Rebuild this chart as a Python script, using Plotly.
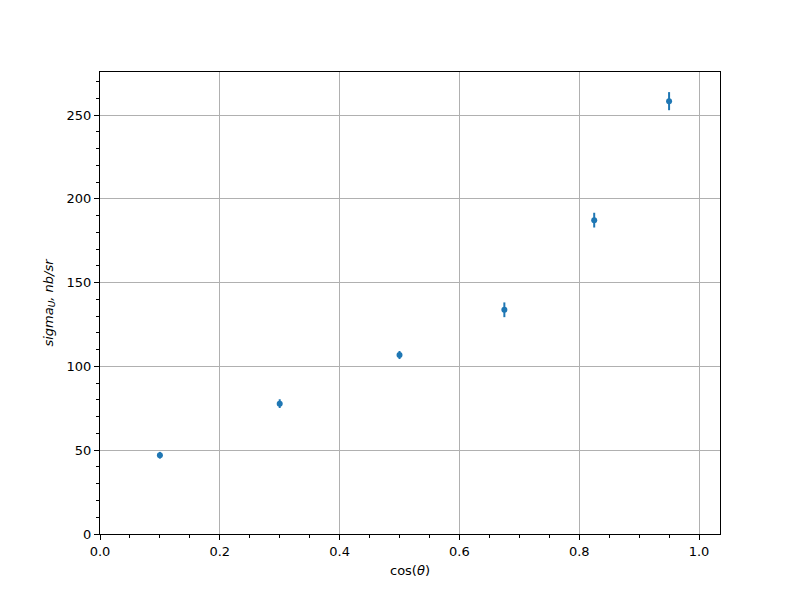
import plotly.graph_objects as go

cos_theta = [0.1, 0.3, 0.5, 0.675, 0.825, 0.95]
sigma_u = [47.0, 77.8, 106.8, 133.8, 187.3, 258.3]
sigma_err = [2.0, 2.6, 2.4, 4.4, 4.4, 5.4]

fig = go.Figure()
fig.add_trace(go.Scatter(
    x=cos_theta, y=sigma_u, mode="markers",
    marker=dict(color="#1f77b4", size=6),
    error_y=dict(type="data", array=sigma_err, visible=True, color="#1f77b4", thickness=2, width=0),
    showlegend=False,
))

axis_common = dict(
    showline=True, mirror=True, linecolor="black", linewidth=1,
    ticks="outside", ticklen=5, tickwidth=1, tickcolor="black",
    showgrid=True, gridcolor="#b0b0b0", gridwidth=1, zeroline=False,
    tickfont=dict(family="DejaVu Sans", size=13, color="black"),
)

fig.update_layout(
    width=800, height=600,
    plot_bgcolor="white", paper_bgcolor="white",
    margin=dict(l=92, r=88, t=64, b=74),
    font=dict(family="DejaVu Sans", size=13, color="black"),
    xaxis=dict(
        range=[0, 1.035], dtick=0.2, tickformat=".1f",
        minor=dict(dtick=0.05, ticks="outside", ticklen=3, tickcolor="black", showgrid=False),
        title=dict(text="cos(<i>θ</i>)", standoff=8, font=dict(size=13)),
        **axis_common,
    ),
    yaxis=dict(
        range=[0, 275.7], dtick=50,
        minor=dict(dtick=10, ticks="outside", ticklen=3, tickcolor="black", showgrid=False),
        title=dict(text="<i>sigma</i><sub><i>U</i></sub><i>, nb/sr</i>", standoff=10, font=dict(size=13)),
        **axis_common,
    ),
)

fig.write_html("out.html")
